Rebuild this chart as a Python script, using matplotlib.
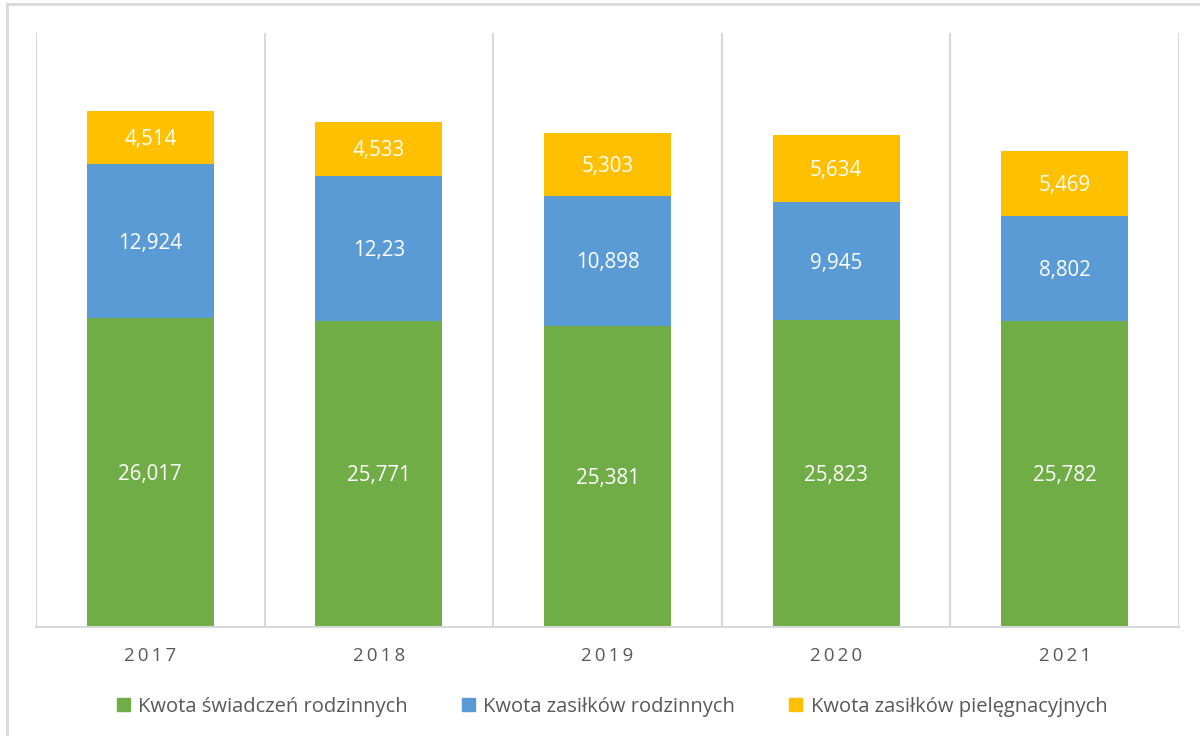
import matplotlib.pyplot as plt
from matplotlib.lines import Line2D
from matplotlib.patches import Patch

plt.rcParams['font.family'] = ['Open Sans', 'DejaVu Sans']

years = ['2017', '2018', '2019', '2020', '2021']
swiadczenia = [26.017, 25.771, 25.381, 25.823, 25.782]
zasilki_rodzinne = [12.924, 12.23, 10.898, 9.945, 8.802]
zasilki_piel = [4.514, 4.533, 5.303, 5.634, 5.469]

series = [
    ('Kwota świadczeń rodzinnych', swiadczenia, '#70AD47'),
    ('Kwota zasiłków rodzinnych', zasilki_rodzinne, '#5B9BD5'),
    ('Kwota zasiłków pielęgnacyjnych', zasilki_piel, '#FFC000'),
]

def fmt(v):
    s = f'{v:.3f}'.rstrip('0').rstrip('.')
    return s.replace('.', ',')

fig = plt.figure(figsize=(12, 7.36), dpi=100)
ax = fig.add_axes([0.03, 0.148, 0.9525, 0.807])

x = list(range(len(years)))
bottom = [0.0] * len(years)
for name, vals, color in series:
    bars = ax.bar(x, vals, width=0.556, bottom=bottom, color=color, label=name, zorder=2)
    for b, v in zip(bars, vals):
        ax.text(b.get_x() + b.get_width() / 2, b.get_y() + b.get_height() / 2 - 0.15, fmt(v),
                ha='center', va='center', color='white', fontsize=14.8, zorder=3)
    bottom = [b + v for b, v in zip(bottom, vals)]

ax.set_xlim(-0.5, len(years) - 0.5)
ax.set_ylim(0, 50)

# category separators
for i in range(len(years) + 1):
    ax.axvline(i - 0.5, color='#d9d9d9', lw=1.5, zorder=1)

for s in ['top', 'left', 'right']:
    ax.spines[s].set_visible(False)
ax.spines['bottom'].set_color('#d9d9d9')
ax.spines['bottom'].set_linewidth(1.5)
ax.set_yticks([])
ax.set_xticks(x)
ax.set_xticklabels(['\u2009'.join(y) for y in years], color='#595959', fontsize=13.5)
ax.tick_params(axis='x', length=0, pad=14)

handles = [Patch(color=c, label=n) for n, _, c in series]
fig.legend(handles=handles, loc='center', bbox_to_anchor=(0.51, 0.04), ncol=3, frameon=False,
           fontsize=14.5, labelcolor='#595959', handlelength=0.65, handleheight=0.65,
           handletextpad=0.4, columnspacing=2.7)

# outer frame, top and left edges
fig.add_artist(Line2D([0.006, 1.0], [0.995, 0.995], color='#d9d9d9', lw=2, transform=fig.transFigure))
fig.add_artist(Line2D([0.006, 0.006], [0.0, 0.995], color='#d9d9d9', lw=2, transform=fig.transFigure))

fig.savefig('out.png', dpi=100)
